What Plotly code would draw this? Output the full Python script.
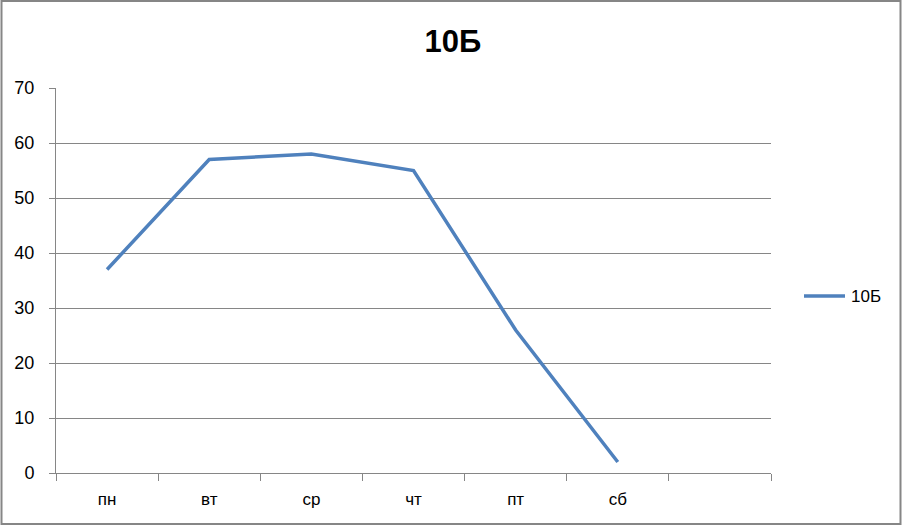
import plotly.graph_objects as go

days = ["пн", "вт", "ср", "чт", "пт", "сб"]
extra_slot = [" "]
values = [37, 57, 58, 55, 26, 2]
series_name = "10Б"
y_ticks = [0, 10, 20, 30, 40, 50, 60, 70]

W, H = 903, 526
L, R, T, B = 56, 132, 88, 53
pw, ph = W - L - R, H - T - B
color = "#4F81BD"

fig = go.Figure()
fig.add_trace(go.Scatter(
    x=days, y=values, mode="lines", name=series_name,
    line=dict(color=color, width=3.5), showlegend=False,
))

grid = "#868686"
leg_y = (473 - 296) / ph
fig.update_layout(
    width=W, height=H,
    margin=dict(l=L, r=R, t=T, b=B),
    paper_bgcolor="white", plot_bgcolor="white",
    font=dict(family="Liberation Sans", size=16, color="black"),
    title=dict(text="<b>10Б</b>", x=(453 - 0) / W, xanchor="center",
               y=1 - 41 / H, yanchor="middle",
               font=dict(family="Liberation Sans", size=31, color="black")),
    xaxis=dict(
        type="category", categoryorder="array", categoryarray=days + extra_slot,
        range=[-0.5, len(days) + len(extra_slot) - 0.5],
        tickson="boundaries", ticks="outside", ticklen=7, tickcolor=grid,
        showline=True, linecolor=grid, linewidth=1,
        showgrid=False, ticklabelstandoff=11, tickfont=dict(size=17),
    ),
    yaxis=dict(
        range=[0, 70], tickvals=y_ticks, ticks="outside", ticklen=6, tickcolor=grid,
        showline=True, linecolor=grid, linewidth=1,
        showgrid=True, gridcolor=grid, gridwidth=1, zeroline=False,
        tickfont=dict(size=18), ticklabelstandoff=11,
    ),
    shapes=[
        dict(type="rect", xref="paper", yref="paper",
             x0=(1.5 - L) / pw, x1=(900.5 - L) / pw,
             y0=(473 - 524) / ph, y1=(473 - 1) / ph,
             line=dict(color="#868686", width=2), fillcolor="rgba(0,0,0,0)"),
        dict(type="line", xref="paper", yref="paper",
             x0=(804 - L) / pw, x1=(845 - L) / pw, y0=leg_y, y1=leg_y,
             line=dict(color=color, width=3.5)),
    ],
    annotations=[dict(
        text=series_name, xref="paper", yref="paper",
        x=(849 - L) / pw, y=leg_y, xanchor="left", yanchor="middle",
        showarrow=False, font=dict(size=17),
    )],
)

fig.write_html("out.html", config={"displayModeBar": False},
               post_script="document.body.style.margin='0';document.body.style.overflow='hidden';")
